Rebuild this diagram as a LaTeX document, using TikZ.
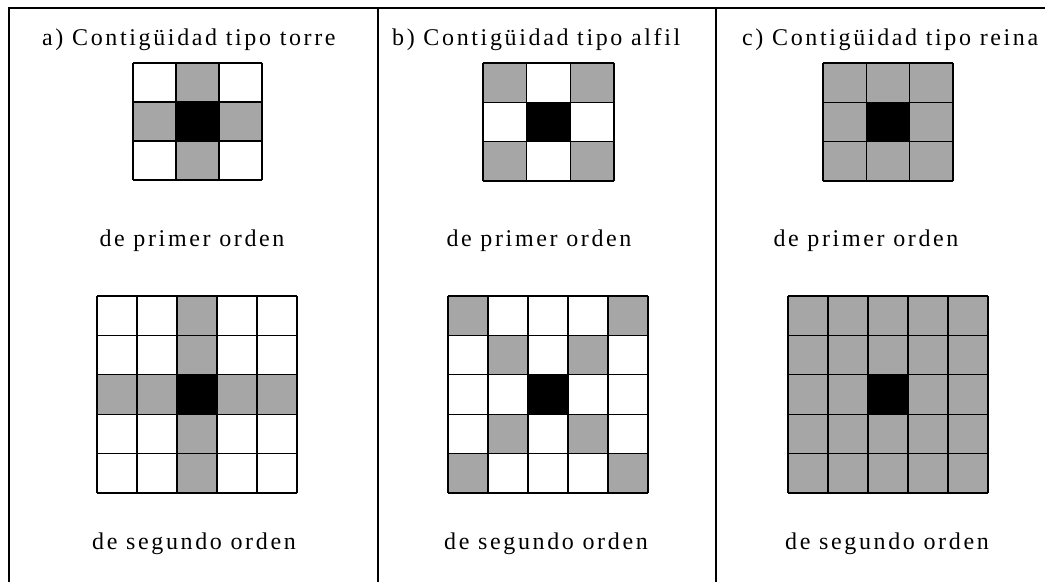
\documentclass[tikz,border=0pt]{standalone}
\usepackage{fontspec}
\setmainfont{Liberation Serif}[LetterSpace=11]
\definecolor{cellgray}{RGB}{166,166,166}
\newcommand\contgrid[6]{%
  \pgfmathtruncatemacro\cgC{(#5-1)/2}%
  \pgfmathtruncatemacro\cgN{#5-1}%
  \foreach \i in {0,...,\cgN}{\foreach \j in {0,...,\cgN}{%
    \pgfmathtruncatemacro\cgG{#6}%
    \ifnum\cgG=1 \fill[cellgray] ({#1+\i*#3},{#2+\j*#4}) rectangle ++(#3,#4);\fi
  }}%
  \fill[black] ({#1+\cgC*#3},{#2+\cgC*#4}) rectangle ++(#3,#4);
  \foreach \k in {0,...,#5}{%
    \draw[gridline] ({#1+\k*#3},#2) -- ++(0,{#5*#4});
    \draw[gridline] (#1,{#2+\k*#4}) -- ++({#5*#3},0);}%
}
\begin{document}
\begin{tikzpicture}[x=1pt,y=-1pt,
  gridline/.style={draw=black,line width=1.2pt},
  frame/.style={draw=black,line width=2pt},
  lbl/.style={inner sep=0pt,font=\fontsize{24}{28}\selectfont}]
\useasboundingbox (0,0) rectangle (1045,582);
\fill[white] (0,0) rectangle (1045,582);
% frame
\coordinate (tl) at (9,8);
\coordinate (tr) at (1045,8);
\coordinate (bl) at (9,582);
\coordinate (d1t) at (378,8);
\coordinate (d1b) at (378,582);
\coordinate (d2t) at (716,8);
\coordinate (d2b) at (716,582);
\draw[frame] (tr) -- (tl) -- (bl);
\draw[frame] (d1t) -- (d1b);
\draw[frame] (d2t) -- (d2b);
% titles
\node[lbl,anchor=base west] (ta) at (42,45) {a) Contigüidad tipo torre};
\node[lbl,anchor=base west] (tb) at (392,45) {b) Contigüidad tipo alfil};
\node[lbl,anchor=base west] (tc) at (742,45) {c) Contigüidad tipo reina};
% first order grids
\contgrid{133}{63}{43}{39}{3}{(\i==\cgC)||(\j==\cgC)}
\contgrid{483}{63}{43.67}{39.33}{3}{abs(\i-\cgC)==abs(\j-\cgC)}
\contgrid{823}{63}{43.33}{39.33}{3}{1}
% labels
\node[lbl,anchor=base] (pa) at (192,246) {de primer orden};
\node[lbl,anchor=base] (pb) at (539,246) {de primer orden};
\node[lbl,anchor=base] (pc) at (866,246) {de primer orden};
% second order grids
\contgrid{97}{296}{40}{39.4}{5}{(\i==\cgC)||(\j==\cgC)}
\contgrid{448}{296}{40}{39.4}{5}{abs(\i-\cgC)==abs(\j-\cgC)}
\contgrid{788}{296}{40}{39.4}{5}{1}
\node[lbl,anchor=base] (sa) at (194,549) {de segundo orden};
\node[lbl,anchor=base] (sb) at (546,549) {de segundo orden};
\node[lbl,anchor=base] (sc) at (887,549) {de segundo orden};
\end{tikzpicture}
\end{document}
